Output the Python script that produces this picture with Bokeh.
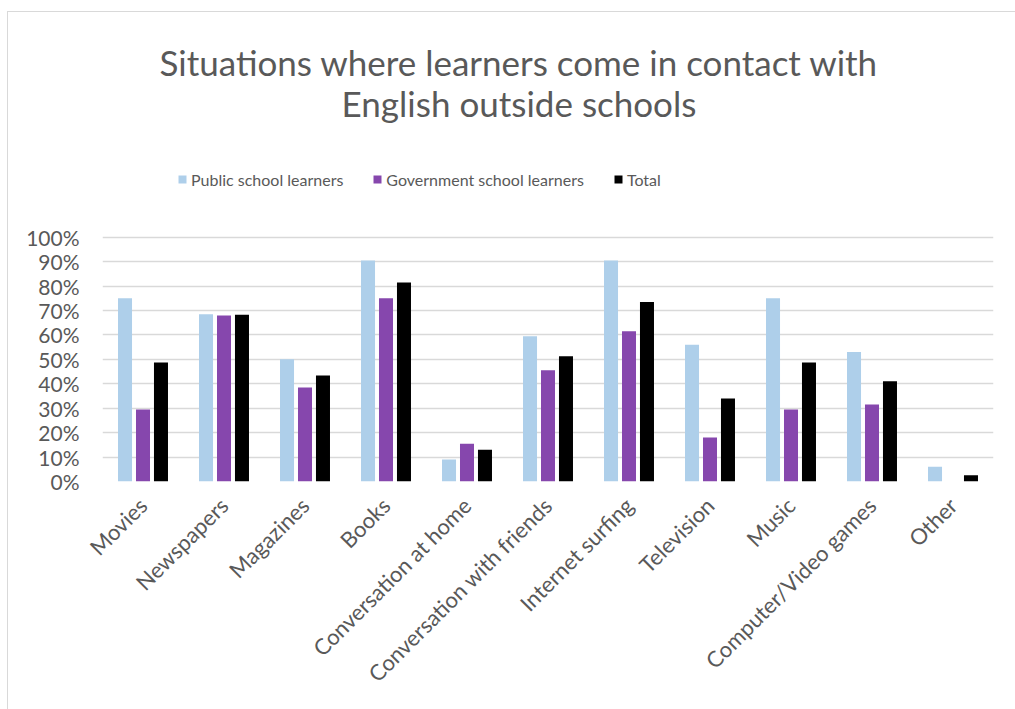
import math
from bokeh.plotting import figure
from bokeh.models import (ColumnDataSource, FactorRange, Range1d, Legend, LegendItem,
                          Label, NumeralTickFormatter, FixedTicker)
from bokeh.transform import dodge
from bokeh.embed import file_html
from bokeh.resources import INLINE

# ---- data ----
categories = ["Movies", "Newspapers", "Magazines", "Books", "Conversation at home",
              "Conversation with friends", "Internet surfing", "Television", "Music",
              "Computer/Video games", "Other"]
public = [0.75, 0.685, 0.50, 0.905, 0.09, 0.595, 0.905, 0.56, 0.75, 0.53, 0.06]
government = [0.295, 0.68, 0.385, 0.75, 0.155, 0.455, 0.615, 0.18, 0.295, 0.315, 0.0]
total = [0.487, 0.683, 0.434, 0.815, 0.13, 0.513, 0.735, 0.34, 0.487, 0.41, 0.026]
series_names = ["Public school learners", "Government school learners", "Total"]
y_ticks = [0.0, 0.1, 0.2, 0.3, 0.4, 0.5, 0.6, 0.7, 0.8, 0.9, 1.0]
title_lines = ["Situations where learners come in contact with", "English outside schools"]

FONT = "Lato"
TXT = "#595959"

# layout (pixels)
FRAME_BOTTOM = 481.0     # y of the 0% line
PX_PER_UNIT = 244.3      # pixels from 0% to 100%

src = ColumnDataSource(dict(cat=categories, public=public, government=government, total=total))

# the frame is extended upward (above 100%) so that the title and legend live inside it
p = figure(width=1015, height=709, x_range=FactorRange(*categories, range_padding=0),
           y_range=Range1d(0, FRAME_BOTTOM / PX_PER_UNIT), output_backend="svg",
           toolbar_location=None, title_location=None,
           min_border_left=102, min_border_right=22, min_border_top=0,
           min_border_bottom=int(709 - FRAME_BOTTOM))
p.outline_line_color = None
p.background_fill_alpha = 0
p.border_fill_alpha = 0
p.styles = {
    "background-color": "white",
    "background-image": "linear-gradient(#d9d9d9, #d9d9d9), linear-gradient(#d9d9d9, #d9d9d9)",
    "background-size": "1px 100%, 100% 1px",
    "background-position": "7px 11px, 7px 11px",
    "background-repeat": "no-repeat",
}

bw = 0.173
r1 = p.vbar(x=dodge("cat", -0.222, range=p.x_range), top="public", width=bw, source=src,
            fill_color="#aecfea", line_color=None)
r2 = p.vbar(x=dodge("cat", 0.0, range=p.x_range), top="government", width=bw, source=src,
            fill_color="#8647ad", line_color=None)
r3 = p.vbar(x=dodge("cat", 0.222, range=p.x_range), top="total", width=bw, source=src,
            fill_color="#000000", line_color=None)

# axes
p.yaxis.ticker = FixedTicker(ticks=y_ticks)
p.yaxis.formatter = NumeralTickFormatter(format="0%")
for ax in (p.xaxis[0], p.yaxis[0]):
    ax.axis_line_color = None
    ax.major_tick_line_color = None
    ax.minor_tick_line_color = None
    ax.major_tick_out = 0
    ax.major_tick_in = 0
    ax.major_label_text_font = FONT
    ax.major_label_text_color = TXT
p.yaxis.major_label_text_font_size = "21px"
p.xaxis.major_label_text_font_size = "22px"
p.yaxis.major_label_standoff = 23
p.xaxis.major_label_standoff = 20
p.xaxis.major_label_orientation = math.pi / 4

p.xgrid.grid_line_color = None
p.ygrid.grid_line_color = "#d9d9d9"
p.ygrid.grid_line_width = 1.5
p.ygrid.ticker = FixedTicker(ticks=y_ticks)

# legend
legend = Legend(items=[LegendItem(label=series_names[0], renderers=[r1]),
                       LegendItem(label=series_names[1], renderers=[r2]),
                       LegendItem(label=series_names[2], renderers=[r3])],
                orientation="horizontal", location=(75, 292),
                glyph_width=10, glyph_height=10, label_standoff=4, spacing=29,
                padding=0, margin=0, border_line_color=None, background_fill_alpha=0,
                label_text_font=FONT, label_text_font_size="16px", label_text_color=TXT,
                label_height=20)
p.add_layout(legend, "center")

# title
for i, line in enumerate(title_lines):
    p.add_layout(Label(x=416.5, y=420 - 41 * i, x_units="screen", y_units="screen", text=line,
                       text_align="center", text_baseline="middle", text_font=FONT,
                       text_font_size="35px", text_color=TXT))

open("out.html", "w").write(file_html(p, INLINE))
